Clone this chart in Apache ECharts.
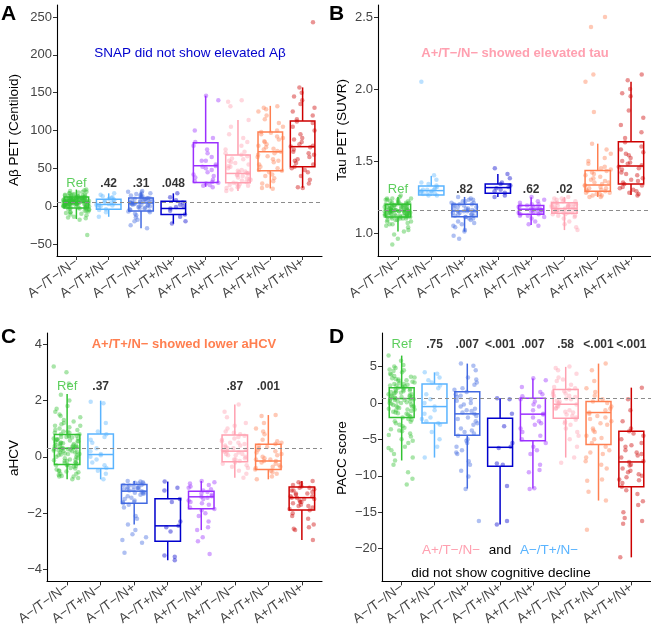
<!DOCTYPE html>
<html><head><meta charset="utf-8">
<script src="https://cdn.jsdelivr.net/npm/echarts@6/dist/echarts.min.js"></script>
<style>html,body{margin:0;padding:0;background:#fff}#c{width:651px;height:628px}</style>
</head><body><div id="c"></div>
<script>
const categories = ['A−/T−/N−','A−/T+/N−','A−/T−/N+','A−/T+/N+','A+/T−/N+','A+/T−/N−','A+/T+/N−','A+/T+/N+'];
const groupColors = ['#33C233','#5AB4FF','#4169E1','#0000CD','#9B30FF','#FFA0B0','#FF7F50','#CD0000'];

// ---- Panel A: Aβ PET (Centiloid) ----
const abTicks = [-50,0,50,100,150,200,250];
const abStats = [[-17,-2.3,5.3,12.3,22],[-14,-4,2.3,9.3,17],[-29,-6.2,4.4,11,18.6],[-23,-11,-3,6.6,17],
  [25.6,31.4,53.5,84,146],[20,31,43.3,67.6,114],[23.5,47,72,98,132.6],[24.3,52,78.7,112.7,157]];
const abLabels = ['Ref','.42','.31','.048','','','',''];
const abG1 = [5,8,12,3,-2,10,15,7,0,6,9,-5,11,2,4,18,-8,13,6,1,7,-12,20,3,9,5,-3,14,8,0,10,-15,6,12,2,22,-1,7,4,16,-6,11,3,9,-18,5,13,1,8,-4,19,6,10,2,-9,12,4,7,-2,15,0,9,5,21,-7,11,3,8,-10,6,14,1,17,-38,4,10,-3,7,12,2,5,-14,9,6,13,0,8,3,11,-1,
  6,9,4,12,-2,7,15,3,10,-6,5,8,1,13,-11,6,11,2,17,-4,9,4,7,-1,14,3,10,-8,5,12,0,8,19,-3,6,11,2,-16,9,5];
const abG2 = [2,5,9,-4,17,12,0,7,-14,3,10,-2,6,15,1,8,-8,4,11,-5,13,2];
const abG3 = [4,11,-6,18,0,8,-12,14,3,-3,9,-20,6,16,1,-8,12,5,-29,10,-1,7,2,15,-5,-15,4,13,8,-10,20,0,6,-4,11,3,-25,9,17,-2,5,14,1,-7,10,-18,7,2,12,-3,19,4];
const abG4 = [-3,5,-11,17,-20,0,-23,8,-6,2,-14,12,-1];
const abG5 = [146,140,100,90,85,80,70,65,60,55,53,50,48,45,42,38,35,33,31,30,28,27,25,32,60,75,52,40];
const abG6 = [140,138,132,114,105,95,90,85,80,75,70,68,66,62,60,58,55,52,50,48,46,45,44,43,42,40,38,36,35,34,33,32,31,30,28,26,25,24,22,20,41,47,53,57,63,72,37,29,27,44];
const abG7 = [132,130,128,125,120,115,110,105,100,98,95,92,90,88,85,82,80,78,75,73,72,70,68,65,62,60,58,55,52,50,48,47,45,42,40,37,33,30,27,24,23,76,86,97,66];
const abG8 = [243,157,150,145,140,135,130,125,120,115,112,110,105,100,95,90,88,85,82,80,79,78,75,72,70,68,65,60,57,55,52,50,48,45,40,35,30,25,24,62];

// ---- Panel B: Tau PET (SUVR) ----
const tauTicks = [1.0,1.5,2.0,2.5];
const tauStats = [[1.01,1.11,1.155,1.20,1.25],[1.26,1.264,1.294,1.326,1.396],[1.01,1.113,1.153,1.20,1.25],[1.25,1.276,1.315,1.34,1.41],
  [1.056,1.13,1.165,1.19,1.248],[1.02,1.137,1.17,1.21,1.25],[1.25,1.29,1.333,1.433,1.62],[1.264,1.34,1.465,1.634,2.05]];
const tauLabels = ['Ref','','.82','','.62','.02','',''];
const tauG1 = [1.15,1.2,1.12,1.18,1.1,1.22,1.16,1.14,1.08,1.19,1.13,1.24,1.17,1.05,1.21,1.11,1.15,1.25,1.09,1.18,1.14,1.02,1.2,1.16,1.12,1.23,1.07,1.15,1.19,1.13,0.92,1.17,1.1,1.21,1.15,1.04,1.18,1.12,1.26,1.16,1.11,1.2,0.96,1.14,1.17,1.09,1.22,1.13,1.16,1.06,1.19,1.15,1.12,1.24,1.18,1.01,1.14,1.2,1.1,1.16,1.13,0.99,1.21,1.17,1.11,1.15,1.23,1.08,1.19,1.14,
  1.16,1.19,1.13,1.21,1.15,1.11,1.18,1.14,1.23,1.12,1.17,1.09,1.2,1.16,1.13,1.22,1.15,1.1,1.18,1.14,1.24,1.12,1.19,1.06,1.16,1.2,1.13,1.17,1.11,1.15];
const tauG2 = [2.05,1.4,1.37,1.34,1.32,1.31,1.3,1.3,1.29,1.29,1.28,1.28,1.27,1.27,1.27,1.26,1.26,1.33,1.3,1.35];
const tauG3 = [1.25,1.24,1.23,1.22,1.21,1.2,1.2,1.19,1.18,1.17,1.16,1.15,1.15,1.14,1.13,1.12,1.11,1.1,1.09,1.08,1.06,1.04,1.02,1.01,0.98,0.96,1.19,1.17,1.15,1.13,1.11,1.22,1.18,1.14,1.16,1.12,1.2,1.1,1.07,1.23,1.05,1.17,1.13,1.21,1.15];
const tauG4 = [1.45,1.41,1.38,1.35,1.33,1.32,1.31,1.3,1.29,1.28,1.26,1.25,1.34];
const tauG5 = [1.25,1.23,1.21,1.2,1.19,1.18,1.18,1.17,1.17,1.16,1.16,1.15,1.15,1.14,1.14,1.13,1.13,1.12,1.11,1.1,1.08,1.06,1.05,1.22,1.19,1.16,1.12,1.17,1.14,1.2];
const tauG6 = [1.25,1.24,1.23,1.22,1.21,1.21,1.2,1.2,1.19,1.19,1.18,1.18,1.17,1.17,1.17,1.16,1.16,1.15,1.15,1.14,1.14,1.13,1.12,1.11,1.1,1.08,1.06,1.04,1.02,1.19,1.2,1.18,1.16,1.22,1.15,1.17,1.23,1.13,1.19,1.21,1.14,1.16,1.18,1.24,1.12];
const tauG7 = [2.5,2.43,2.1,2.05,1.84,1.62,1.58,1.55,1.52,1.5,1.48,1.46,1.44,1.43,1.42,1.41,1.4,1.38,1.37,1.36,1.35,1.34,1.33,1.33,1.32,1.31,1.3,1.3,1.29,1.29,1.28,1.28,1.27,1.27,1.26,1.26,1.25,1.25,1.35,1.31,1.39,1.45];
const tauG8 = [2.1,2.06,2.0,1.97,1.95,1.85,1.8,1.75,1.7,1.66,1.63,1.6,1.58,1.56,1.54,1.52,1.5,1.49,1.48,1.47,1.46,1.45,1.44,1.42,1.4,1.38,1.36,1.35,1.34,1.33,1.32,1.31,1.3,1.29,1.28,1.27,1.26,1.41,1.37,1.55];

// ---- Panel C: aHCV ----
const hcvTicks = [-4,-2,0,2,4];
const hcvStats = [[-0.8,-0.27,0.3,0.79,2.23],[-0.8,-0.42,0.08,0.81,1.99],[-2.4,-1.65,-1.22,-0.98,-0.86],[-3.67,-3.0,-2.45,-1.49,-0.88],
  [-2.6,-1.84,-1.42,-1.22,-0.86],[-0.74,-0.18,0.2,0.77,1.85],[-0.8,-0.45,-0.15,0.44,1.48],[-2.95,-1.89,-1.45,-1.07,-0.86]];
const hcvLabels = ['Ref','.37','','','','.87','.001',''];
const hcvG1 = [3.2,3.0,2.6,2.2,2.0,1.8,1.6,1.5,1.4,1.3,1.2,1.1,1.0,0.95,0.9,0.85,0.8,0.75,0.7,0.65,0.6,0.55,0.5,0.45,0.4,0.38,0.35,0.32,0.3,0.28,0.25,0.22,0.2,0.15,0.1,0.05,0,-0.05,-0.1,-0.15,-0.2,-0.25,-0.3,-0.35,-0.4,-0.45,-0.5,-0.55,-0.6,-0.65,-0.7,-0.75,-0.8,0.42,0.6,0.3,0.1,-0.1,0.7,0.9,1.1,0.2,0.5,-0.2,0.8,0.4,0.0,-0.3,0.35,0.65,1.25,-0.5,0.15,0.55,-0.7,1.7,0.25,0.45,-0.15,0.75,
  0.33,-0.22,0.58,0.12,-0.6,0.95,0.27,-0.42,0.68,0.05,1.15,-0.12,0.48,-0.68,0.18,0.85,-0.33,0.38,1.45,-0.05,0.62,0.22,-0.52,0.72,0.08,1.05,-0.28,0.52];
const hcvG2 = [1.95,1.9,1.2,0.9,0.8,0.7,0.5,0.3,0.2,0.1,0.05,0,-0.1,-0.2,-0.3,-0.4,-0.5,-0.6,-0.8,0.6];
const hcvG3 = [-0.86,-0.88,-0.9,-0.92,-0.95,-1.0,-1.02,-1.05,-1.08,-1.1,-1.12,-1.15,-1.18,-1.2,-1.22,-1.25,-1.28,-1.3,-1.35,-1.4,-1.45,-1.5,-1.55,-1.6,-1.65,-1.7,-1.8,-2.1,-2.2,-2.4,-2.6,-2.75,-2.85,-2.95,-3.05,-3.4,-1.0,-1.1,-1.3,-0.95,-1.6,-1.15];
const hcvG4 = [-0.88,-1.1,-1.5,-1.6,-2.3,-2.45,-2.5,-2.65,-3.5,-3.55,-3.67,-1.2];
const hcvG5 = [-0.86,-0.9,-0.95,-1.0,-1.05,-1.1,-1.2,-1.25,-1.3,-1.35,-1.4,-1.42,-1.45,-1.5,-1.55,-1.6,-1.7,-1.8,-1.85,-1.9,-2.0,-2.1,-2.3,-2.5,-2.6,-2.85,-3.0,-3.45,-1.15,-1.65];
const hcvG6 = [1.85,1.6,1.4,1.2,1.0,0.9,0.8,0.75,0.7,0.6,0.55,0.5,0.45,0.4,0.35,0.3,0.25,0.2,0.18,0.15,0.1,0.05,0,-0.05,-0.1,-0.15,-0.2,-0.3,-0.4,-0.5,-0.6,-0.74,0.5,0.3,0.1,-0.1,0.65,0.22,0.05,-0.25,0.85,1.1,0.4,-0.35];
const hcvG7 = [1.48,1.45,1.2,1.0,0.8,0.6,0.55,0.5,0.45,0.4,0.3,0.2,0.1,0.05,0,-0.05,-0.1,-0.15,-0.2,-0.25,-0.3,-0.35,-0.4,-0.45,-0.5,-0.6,-0.7,-0.8,0.25,-0.15,0.15,-0.35,0.35,-0.1,0.9,-0.55];
const hcvG8 = [-0.86,-0.9,-0.95,-1.0,-1.05,-1.1,-1.15,-1.2,-1.25,-1.3,-1.35,-1.4,-1.45,-1.5,-1.55,-1.6,-1.65,-1.7,-1.75,-1.8,-1.85,-1.9,-2.0,-2.1,-2.2,-2.4,-2.5,-2.55,-2.6,-2.95,-1.2,-1.4,-1.5,-1.3,-1.6,-1.1,-1.75,-1.45];

// ---- Panel D: PACC score ----
const paccTicks = [-20,-15,-10,-5,0,5];
const paccStats = [[-7.9,-2.0,0.6,2.08,6.5],[-7.5,-2.77,-0.5,2.6,4.2],[-11.76,-4.45,-1.5,1.54,5.4],[-16.7,-8.7,-6.09,-2.09,0.64],
  [-11.76,-5.18,-1.54,0.64,3.36],[-7.5,-2.09,-0.18,1.86,4.95],[-13.4,-5.72,-1.32,0.18,5.4],[-21.2,-11.5,-8.1,-3.9,2.1]];
const paccLabels = ['Ref','.75','.007','<.001','.007','.58','<.001','<.001'];
const paccG1 = [6.5,5.8,5.2,4.8,4.5,4.2,4.0,3.7,3.5,3.2,3.0,2.8,2.6,2.4,2.2,2.0,1.8,1.6,1.4,1.2,1.0,0.8,0.6,0.4,0.2,0,-0.2,-0.4,-0.6,-0.8,-1.0,-1.2,-1.5,-1.8,-2.0,-2.3,-2.6,-3.0,-3.4,-3.8,-4.2,-4.6,-5.0,-5.5,-6.0,-6.5,-7.0,-7.5,-7.9,-8.5,-9.5,-10.4,-11.2,1.5,0.9,2.5,-0.5,1.1,3.3,-1.4,0.3,2.1,-2.8,1.7,0.5,-0.9,3.9,-3.6,0.1,2.9,-1.6,4.4,0.7,-5.2,1.3,-0.1,2.3,-2.2,0.8,3.6,
  1.9,-0.7,0.4,2.7,-1.9,1.2,-3.2,0.9,3.1,-0.3,1.6,-4.4,0.2,2.4,-1.1,4.6,0.6,-2.5,1.4,-0.5,3.4,-6.2,0.0,1.8,-1.3,2.6,-3.9,0.5,5.0,-0.9];
const paccG2 = [4.2,4.0,3.5,2.8,2.4,2.0,1.2,0.5,0,-0.5,-1.0,-1.5,-2.0,-2.5,-2.8,-3.0,-4.0,-5.0,-6.0,-7.5,3.1,-2.2];
const paccG3 = [5.4,5.1,4.5,3.5,3.2,2.5,2.0,1.5,1.0,0.5,0,-0.5,-1.0,-1.3,-1.5,-1.8,-2.0,-2.5,-3.0,-3.5,-4.0,-4.5,-5.0,-5.5,-6.0,-6.5,-7.0,-8.0,-8.5,-9.3,-10.1,-11.8,-16.2,1.2,-0.8,-2.2,0.3,-3.8,2.8,-1.1,-6.8,0.8,-4.2,1.8,-2.8,-0.2,-5.2];
const paccG4 = [0.64,0.5,-1.5,-3.2,-5.5,-6.0,-6.2,-8.5,-8.3,-11.4,-16.2,-16.7];
const paccG5 = [3.4,3.1,2.2,1.5,0.9,0.5,0.2,-0.5,-1.0,-1.5,-1.6,-2.0,-2.5,-3.0,-3.5,-4.0,-4.5,-5.0,-5.5,-6.0,-6.5,-7.0,-8.5,-9.2,-9.5,-11.7,-11.8,-2.8,1.2,-0.2];
const paccG6 = [5.0,4.8,4.5,4.0,3.5,3.0,2.5,2.0,1.8,1.5,1.2,1.0,0.8,0.5,0.3,0,-0.2,-0.5,-0.8,-1.0,-1.3,-1.6,-2.0,-2.3,-2.6,-3.0,-3.5,-4.0,-4.5,-5.0,-6.0,-7.5,-8.2,1.6,-0.4,0.6,-1.2,2.2,-0.1,0.9,-2.8,1.3,-0.7,3.2,0.2,-1.8];
const paccG7 = [5.4,4.5,3.0,2.0,1.0,0.2,0,-0.5,-1.0,-1.3,-1.5,-2.0,-2.5,-3.0,-3.5,-4.0,-4.5,-5.0,-5.5,-6.0,-6.5,-7.0,-7.5,-8.0,-8.5,-9.0,-10.5,-10.7,-12.2,-13.4,-17.4,-0.8,-1.8,-2.8,-3.8,0.5,-4.8,-6.8,1.5,-2.2];
const paccG8 = [2.1,0.5,-1.0,-2.5,-3.5,-3.9,-4.5,-5.0,-5.5,-6.0,-6.5,-7.0,-7.5,-8.0,-8.1,-8.5,-9.0,-9.3,-9.5,-10.0,-10.5,-10.6,-11.0,-11.5,-12.5,-13.5,-14.0,-15.0,-15.8,-16.2,-16.6,-21.2,-4.2,-6.8,-8.6,-9.8,-7.2,-10.2,-5.8,-12.0];

const FONT = 'Liberation Sans, Arial, Helvetica, sans-serif';
const panels = [
  {grid:{left:57,top:5,width:265,height:251}, min:-65.8, max:265.9, ticks:abTicks, stats:abStats, labels:abLabels, labelY:30,
   points:[abG1,abG2,abG3,abG4,abG5,abG6,abG7,abG8]},
  {grid:{left:378,top:5,width:273,height:251}, min:0.84, max:2.583, ticks:tauTicks, stats:tauStats, labels:tauLabels, labelY:1.3,
   points:[tauG1,tauG2,tauG3,tauG4,tauG5,tauG6,tauG7,tauG8], fmt:v=>v.toFixed(1)},
  {grid:{left:47,top:333,width:275,height:251}, min:-4.42, max:4.39, ticks:hcvTicks, stats:hcvStats, labels:hcvLabels, labelY:2.5,
   points:[hcvG1,hcvG2,hcvG3,hcvG4,hcvG5,hcvG6,hcvG7,hcvG8]},
  {grid:{left:382,top:333,width:269,height:251}, min:-24.5, max:9.6, ticks:paccTicks, stats:paccStats, labels:paccLabels, labelY:8,
   points:[paccG1,paccG2,paccG3,paccG4,paccG5,paccG6,paccG7,paccG8]}
];

function jit(i, g){ return ((i*i*31 + i*17 + g*13) % 101) / 101 - 0.5; }
const minus = s => String(s).replace('-', '\u2212');

const grids=[], xAxes=[], yAxes=[], series=[];
panels.forEach((p, k) => {
  grids.push(p.grid);
  xAxes.push({type:'value', gridIndex:k, min:0.4, max:8.6,
    axisLine:{show:true, onZero:false, lineStyle:{color:'#000', width:1.1}},
    axisTick:{show:true, customValues:[1,2,3,4,5,6,7,8], length:4, lineStyle:{color:'#333'}},
    axisLabel:{customValues:[1,2,3,4,5,6,7,8], formatter:v=>categories[Math.round(v)-1], rotate:36, margin:5,
      fontSize:13.5, color:'#444', fontFamily:FONT},
    splitLine:{show:false}});
  yAxes.push({type:'value', gridIndex:k, min:p.min, max:p.max,
    axisLine:{show:true, onZero:false, lineStyle:{color:'#000', width:1.1}},
    axisTick:{show:true, customValues:p.ticks, length:4, lineStyle:{color:'#333'}},
    axisLabel:{customValues:p.ticks, formatter:v=>minus(p.fmt ? p.fmt(v) : v), fontSize:13, color:'#444', fontFamily:FONT, margin:5},
    splitLine:{show:false}});
  const pts=[];
  p.points.forEach((arr,g)=>arr.forEach((v,i)=>pts.push([g+1+jit(i,g)*0.8, v, g])));
  series.push({type:'scatter', xAxisIndex:k, yAxisIndex:k, data:pts, symbolSize:4.5, silent:true, z:2,
    itemStyle:{color:pr=>groupColors[pr.data[2]], opacity:0.42}});
  series.push({type:'custom', xAxisIndex:k, yAxisIndex:k, z:3, silent:true,
    data:p.stats.map((s,g)=>[g+1, ...s, g]),
    encode:{x:0, y:[1,2,3,4,5]},
    renderItem:(params, api)=>{
      const x=api.value(0), g=api.value(6);
      const c=groupColors[g];
      const half=api.size([0.76,0])[0]/2;
      const lo=api.coord([x,api.value(1)]), q1=api.coord([x,api.value(2)]), md=api.coord([x,api.value(3)]),
            q3=api.coord([x,api.value(4)]), hi=api.coord([x,api.value(5)]);
      const ls={stroke:c, lineWidth:1.5, fill:null};
      return {type:'group', children:[
        {type:'line', shape:{x1:hi[0], y1:hi[1], x2:q3[0], y2:q3[1]}, style:ls},
        {type:'line', shape:{x1:q1[0], y1:q1[1], x2:lo[0], y2:lo[1]}, style:ls},
        {type:'rect', shape:{x:q3[0]-half, y:q3[1], width:2*half, height:q1[1]-q3[1]}, style:{stroke:c, lineWidth:1.5, fill:'rgba(0,0,0,0)'}},
        {type:'line', shape:{x1:md[0]-half, y1:md[1], x2:md[0]+half, y2:md[1]}, style:ls}
      ]};
    },
    markLine:{silent:true, symbol:'none', label:{show:false},
      lineStyle:{color:'#8c8c8c', type:[4,3], width:1.1}, data:[{yAxis:p.stats[0][2]}]}});
  series.push({type:'scatter', xAxisIndex:k, yAxisIndex:k, symbolSize:0, silent:true, z:4,
    data:p.labels.map((t,g)=>({value:[g+1,p.labelY], name:t,
      label:{show:t!=='', formatter:t, position:'inside', fontSize:g===0?13:12, fontFamily:FONT,
        color:g===0?groupColors[0]:'#000', fontWeight:g===0?'normal':'bold'}}))});
});

function txt(text, x, y, opt){
  return Object.assign({type:'text', x, y, silent:true,
    style:Object.assign({text, font:'13px '+FONT, fill:'#000', align:'center', verticalAlign:'middle',
      textAlign:'center', textVerticalAlign:'middle'}, opt||{})});
}
const graphics = [
  txt('A', 1, 4, {font:'bold 21px '+FONT, align:'left', textAlign:'left', verticalAlign:'top', textVerticalAlign:'top'}),
  txt('B', 329, 4, {font:'bold 21px '+FONT, align:'left', textAlign:'left', verticalAlign:'top', textVerticalAlign:'top'}),
  txt('C', 1, 327, {font:'bold 21px '+FONT, align:'left', textAlign:'left', verticalAlign:'top', textVerticalAlign:'top'}),
  txt('D', 329, 327, {font:'bold 21px '+FONT, align:'left', textAlign:'left', verticalAlign:'top', textVerticalAlign:'top'}),
  Object.assign(txt('Aβ PET (Centiloid)', 14, 130, {font:'13.5px '+FONT}), {rotation:Math.PI/2}),
  Object.assign(txt('Tau PET (SUVR)', 342, 130, {font:'13.5px '+FONT}), {rotation:Math.PI/2}),
  Object.assign(txt('aHCV', 14, 458, {font:'13.5px '+FONT}), {rotation:Math.PI/2}),
  Object.assign(txt('PACC score', 342, 458, {font:'13.5px '+FONT}), {rotation:Math.PI/2}),
  txt('SNAP did not show elevated Aβ', 190, 53, {font:'13.5px '+FONT, fill:'#0000CD'}),
  txt('A+/T−/N− showed elevated tau', 515, 53, {font:'bold 13px '+FONT, fill:'#FFA0B0'}),
  txt('A+/T+/N− showed lower aHCV', 184, 344, {font:'bold 13px '+FONT, fill:'#FF7F50'}),
  txt('A+/T−/N−', 451, 550, {font:'13.5px '+FONT, fill:'#FFA0B0'}),
  txt('and', 500, 550, {font:'13.5px '+FONT, fill:'#000'}),
  txt('A−/T+/N−', 549, 550, {font:'13.5px '+FONT, fill:'#5AB4FF'}),
  txt('did not show cognitive decline', 501, 573, {font:'13.5px '+FONT, fill:'#000'})
];

const chart = echarts.init(document.getElementById('c'), null, {renderer:'canvas'});
chart.setOption({animation:false, backgroundColor:'#fff', textStyle:{fontFamily:FONT},
  grid:grids, xAxis:xAxes, yAxis:yAxes, series, graphic:graphics});
</script></body></html>
